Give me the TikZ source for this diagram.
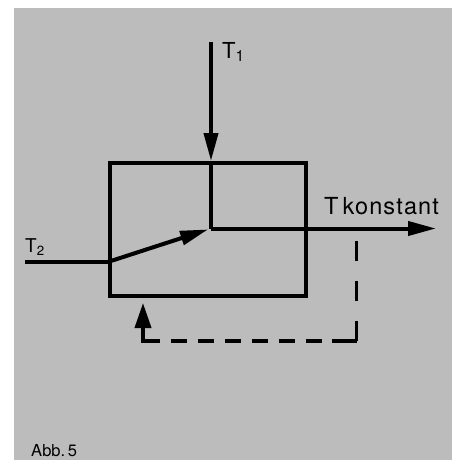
\documentclass[tikz,border=0pt]{standalone}
\usepackage{fontspec}
\setmainfont{TeX Gyre Heros}
\usetikzlibrary{arrows.meta,positioning,calc}
\definecolor{paper}{HTML}{BCBCBC}

\begin{document}
\begin{tikzpicture}[x=1pt, y=-1pt,
      flow/.style={line width=4pt, line join=miter},
      flowarrow/.style={flow, -{Triangle[length=28pt, width=14pt]}},
      returnline/.style={line width=3.8pt},
      mixer/.style={draw, line width=4pt, minimum width=196pt, minimum height=133pt,
                    inner sep=0pt},
      label/.style={font=\fontsize{22}{24}\selectfont, inner sep=0pt, anchor=base west}
    ]
      \useasboundingbox (0,0) rectangle (457,461);
      \fill[paper] (14,8) rectangle (452,460);

      \node[mixer] (box) at (207.75,229.5) {};

      \coordinate (t1) at (211,42);
      \coordinate (t2) at (25,262);
      \coordinate (junction) at (211,228.5);
      \coordinate (out) at (436,228.5);
      \coordinate (tap) at (356.5,241);
      \coordinate (corner) at (356.5,341);
      \coordinate (back) at (143,341);
      \coordinate (tip) at (143,303);

      % inlets
      \draw[flowarrow] (t1) -- (t1 |- box.north);
      \draw[flow] (t1 |- box.north) -- (junction);
      \draw[flow] (t2) -- (t2 -| box.west);
      \draw[flowarrow, shorten >=3pt] (t2 -| box.west) -- (junction);

      % outlet and feedback
      \draw[flowarrow] (junction) -- (out);
      \draw[returnline, dash pattern=on 20pt off 20pt] (tap) -- (corner);
      \draw[returnline, dash pattern=on 25pt off 10pt on 16pt off 11pt on 16pt off 11pt
            on 16pt off 11pt on 16pt off 11pt on 16pt off 11pt on 16pt off 11pt on 40pt off 10pt]
        (corner) -- (back) -- ($(tip)+(0,25)$);
      \draw[returnline, -{Triangle[length=25pt, width=16pt]}] ($(tip)+(0,26)$) -- (tip);

      \node[label] (t1label) at (222,58) {T\textsubscript{1}};
      \node[label, font=\fontsize{19}{21}\selectfont] (t2label) at (25,252) {T\textsubscript{2}};
      \node[label, font=\fontsize{23.5}{26}\selectfont] (outlabel) at (324,214)
        {T\hspace{4pt}{\addfontfeature{LetterSpace=5}konstant}};
      \node[label, font=\fontsize{16.5}{18}\selectfont] (abb) at (31,456) {Abb.\,5};
    \end{tikzpicture}
\end{document}
